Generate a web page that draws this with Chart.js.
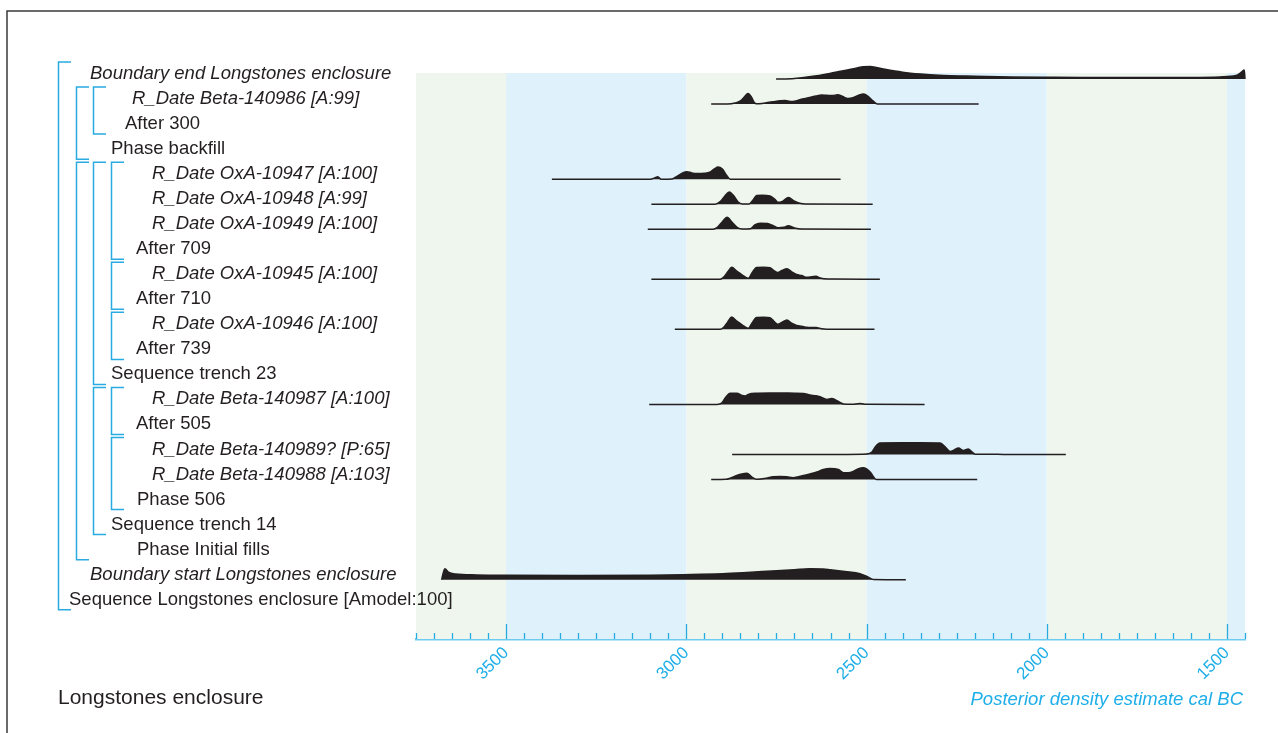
<!DOCTYPE html>
<html>
<head>
<meta charset="utf-8">
<title>Longstones enclosure</title>
<script src="https://cdn.jsdelivr.net/npm/chart.js@4.4.1/dist/chart.umd.min.js"></script>
<style>
  html, body { margin: 0; padding: 0; background: #fff; }
  canvas { display: block; }
</style>
</head>
<body>
<canvas id="myChart" width="1278" height="733" style="width:1278px;height:733px"></canvas>
<script>
// Row labels, top to bottom
const rowLabels = [
  "Boundary end Longstones enclosure",
  "R_Date Beta-140986 [A:99]",
  "After 300",
  "Phase backfill",
  "R_Date OxA-10947 [A:100]",
  "R_Date OxA-10948 [A:99]",
  "R_Date OxA-10949 [A:100]",
  "After 709",
  "R_Date OxA-10945 [A:100]",
  "After 710",
  "R_Date OxA-10946 [A:100]",
  "After 739",
  "Sequence trench 23",
  "R_Date Beta-140987 [A:100]",
  "After 505",
  "R_Date Beta-140989? [P:65]",
  "R_Date Beta-140988 [A:103]",
  "Phase 506",
  "Sequence trench 14",
  "Phase Initial fills",
  "Boundary start Longstones enclosure",
  "Sequence Longstones enclosure [Amodel:100]"
];

// axis labels (cal BC) and background band edges
const tickYears = [3500, 3000, 2500, 2000, 1500];
const bandEdges = [3750, 3500, 3000, 2500, 2000, 1500, 1450];

// model structure: [first row, last row, depth]
const groups = [
  [0, 21, 0], [1, 3, 1], [1, 2, 2], [4, 19, 1], [4, 12, 2],
  [4, 7, 3], [8, 9, 3], [10, 11, 3], [13, 18, 2], [13, 14, 3], [15, 17, 3]
];

// posterior densities (relative probability), years cal BC
const endYears = [2751, 2700, 2654, 2602, 2572, 2540, 2510, 2490, 2470, 2449, 2400, 2350, 2300, 2200, 2100, 2000, 1900, 1750, 1600, 1520, 1475, 1460, 1452, 1450];
const endProb  = [0, 0.05, 0.2, 0.45, 0.62, 0.8, 0.98, 1.0, 0.9, 0.78, 0.55, 0.4, 0.3, 0.22, 0.17, 0.14, 0.12, 0.12, 0.13, 0.17, 0.28, 0.55, 0.72, 0];

const beta140986Years = [2931, 2885, 2865, 2850, 2838, 2829, 2820, 2812, 2805, 2790, 2775, 2760, 2740, 2725, 2712, 2700, 2685, 2670, 2655, 2640, 2625, 2610, 2595, 2580, 2566, 2552, 2538, 2522, 2508, 2495, 2482, 2470, 2189];
const beta140986Prob  = [0, 0, 0.08, 0.25, 0.6, 0.85, 0.6, 0.15, 0.02, 0.05, 0.12, 0.18, 0.26, 0.28, 0.2, 0.22, 0.35, 0.45, 0.55, 0.65, 0.72, 0.7, 0.68, 0.75, 0.6, 0.45, 0.5, 0.7, 0.8, 0.6, 0.25, 0, 0];

const oxa10947Years = [3373, 3100, 3088, 3079, 3070, 3040, 3025, 3010, 2999, 2985, 2970, 2950, 2935, 2922, 2912, 2900, 2888, 2878, 2572];
const oxa10947Prob  = [0, 0, 0.1, 0.2, 0, 0.02, 0.25, 0.5, 0.6, 0.5, 0.45, 0.47, 0.55, 0.82, 0.97, 0.8, 0.3, 0, 0];

const oxa10948Years = [3097, 2920, 2906, 2893, 2881, 2868, 2857, 2845, 2826, 2816, 2805, 2790, 2768, 2755, 2746, 2732, 2717, 2700, 2685, 2670, 2483];
const oxa10948Prob  = [0, 0, 0.2, 0.65, 0.98, 0.65, 0.2, 0.02, 0.02, 0.3, 0.7, 0.72, 0.65, 0.4, 0.15, 0.25, 0.53, 0.25, 0.08, 0.02, 0];

const oxa10949Years = [3107, 2926, 2914, 2900, 2887, 2873, 2859, 2845, 2822, 2810, 2795, 2775, 2760, 2745, 2730, 2717, 2700, 2680, 2488];
const oxa10949Prob  = [0, 0, 0.15, 0.6, 0.96, 0.55, 0.15, 0.02, 0.04, 0.35, 0.48, 0.45, 0.3, 0.12, 0.15, 0.27, 0.1, 0.02, 0];

const oxa10945Years = [3097, 2906, 2897, 2885, 2874, 2860, 2851, 2840, 2828, 2818, 2805, 2785, 2768, 2757, 2746, 2735, 2721, 2708, 2694, 2680, 2666, 2652, 2640, 2630, 2618, 2590, 2463];
const oxa10945Prob  = [0, 0, 0.15, 0.6, 0.96, 0.65, 0.48, 0.25, 0.08, 0.5, 0.95, 0.97, 0.93, 0.7, 0.55, 0.7, 0.85, 0.6, 0.38, 0.3, 0.16, 0.2, 0.24, 0.12, 0.04, 0.02, 0];

const oxa10946Years = [3032, 2906, 2897, 2885, 2874, 2860, 2851, 2840, 2828, 2818, 2805, 2785, 2768, 2757, 2746, 2735, 2721, 2708, 2694, 2680, 2666, 2652, 2640, 2625, 2610, 2478];
const oxa10946Prob  = [0, 0, 0.15, 0.6, 0.98, 0.65, 0.48, 0.25, 0.08, 0.5, 0.95, 0.97, 0.93, 0.65, 0.4, 0.55, 0.74, 0.5, 0.32, 0.25, 0.16, 0.14, 0.15, 0.05, 0.01, 0];

const beta140987Years = [3103, 2915, 2902, 2890, 2879, 2860, 2845, 2837, 2828, 2819, 2805, 2770, 2740, 2700, 2675, 2657, 2640, 2629, 2610, 2597, 2585, 2575, 2564, 2540, 2518, 2500, 2339];
const beta140987Prob  = [0, 0, 0.1, 0.6, 0.9, 0.9, 0.72, 0.68, 0.8, 0.88, 0.9, 0.92, 0.92, 0.9, 0.88, 0.75, 0.7, 0.62, 0.4, 0.47, 0.35, 0.18, 0.04, 0.02, 0.07, 0.01, 0];

const beta140989Years = [2873, 2555, 2500, 2485, 2476, 2463, 2400, 2350, 2296, 2280, 2268, 2258, 2245, 2231, 2218, 2207, 2199, 2157, 2120, 1947];
const beta140989Prob  = [0, 0.01, 0.04, 0.2, 0.6, 0.92, 0.93, 0.94, 0.92, 0.55, 0.25, 0.35, 0.52, 0.32, 0.45, 0.2, 0.03, 0.03, 0.01, 0];

const beta140988Years = [2931, 2890, 2879, 2862, 2846, 2832, 2818, 2805, 2779, 2760, 2740, 2721, 2704, 2675, 2657, 2638, 2620, 2601, 2578, 2564, 2551, 2537, 2524, 2509, 2500, 2490, 2472, 2193];
const beta140988Prob  = [0, 0.02, 0.1, 0.3, 0.45, 0.5, 0.2, 0.03, 0.1, 0.22, 0.25, 0.22, 0.15, 0.32, 0.45, 0.6, 0.8, 0.88, 0.8, 0.55, 0.55, 0.65, 0.85, 0.95, 0.85, 0.6, 0, 0];

const startYears = [3679, 3670, 3660, 3640, 3582, 3500, 3300, 3100, 3009, 2900, 2843, 2749, 2700, 2657, 2620, 2601, 2560, 2518, 2495, 2481, 2391];
const startProb  = [0, 0.88, 0.6, 0.45, 0.38, 0.35, 0.33, 0.36, 0.4, 0.47, 0.55, 0.72, 0.8, 0.88, 0.86, 0.8, 0.65, 0.48, 0.2, 0.02, 0];

// which row each distribution sits on
const densities = [
  [0, endYears, endProb],
  [1, beta140986Years, beta140986Prob],
  [4, oxa10947Years, oxa10947Prob],
  [5, oxa10948Years, oxa10948Prob],
  [6, oxa10949Years, oxa10949Prob],
  [8, oxa10945Years, oxa10945Prob],
  [10, oxa10946Years, oxa10946Prob],
  [13, beta140987Years, beta140987Prob],
  [15, beta140989Years, beta140989Prob],
  [16, beta140988Years, beta140988Prob],
  [20, startYears, startProb]
];

// ---- styling ----
const FONT = "'Liberation Sans', Arial, Helvetica, sans-serif";
const INK = "#231f20";
const BLUE = "#29abe2";
const peakHeight = 0.5;   // a density of 1 reaches half a row up
const labelX = [90, 132, 125, 111, 152, 152, 152, 136, 152, 136, 152, 136, 111, 152, 136, 152, 152, 137, 111, 137, 90, 69];

Chart.defaults.font.family = FONT;

let datasets = densities.map(([row, years, prob]) => ({
  data: years.map((yr, i) => ({ x: yr, y: row - prob[i] * peakHeight })),
  borderColor: INK,
  backgroundColor: INK,
  borderWidth: 1.5,
  fill: { value: row },
  cubicInterpolationMode: "monotone",
  pointRadius: 0,
  clip: false
}));

// background bands, inward tick marks, frame, labels and brackets
const oxcalDecor = {
  id: "oxcalDecor",
  beforeDatasetsDraw(chart) {
    const { ctx, chartArea, scales: { x, y } } = chart;
    const top = y.getPixelForValue(-0.24);
    ctx.save();
    for (let i = 0; i < bandEdges.length - 1; i++) {
      const x0 = x.getPixelForValue(bandEdges[i]);
      const x1 = x.getPixelForValue(bandEdges[i + 1]);
      ctx.fillStyle = i % 2 === 0 ? "#eff6ee" : "#dff1fb";
      ctx.fillRect(x0, top, x1 - x0, chartArea.bottom - top);
    }
    ctx.restore();
  },
  afterDraw(chart) {
    const { ctx, chartArea, scales: { x, y } } = chart;
    ctx.save();

    // tick marks pointing up into the plot
    ctx.strokeStyle = BLUE;
    ctx.lineWidth = 1.3;
    x.ticks.forEach(t => {
      const px = Math.round(x.getPixelForValue(t.value)) + 0.5;
      const len = tickYears.includes(t.value) ? 15 : 6;
      ctx.beginPath();
      ctx.moveTo(px, chartArea.bottom);
      ctx.lineTo(px, chartArea.bottom - len);
      ctx.stroke();
    });

    // frame
    ctx.strokeStyle = "#3a3a3a";
    ctx.lineWidth = 1.5;
    ctx.beginPath();
    ctx.moveTo(1278, 11);
    ctx.lineTo(7, 11);
    ctx.lineTo(7, 733);
    ctx.stroke();

    // row labels
    ctx.fillStyle = INK;
    ctx.textBaseline = "alphabetic";
    ctx.textAlign = "left";
    rowLabels.forEach((lab, i) => {
      const italic = /^(R_Date|Boundary)/.test(lab);
      ctx.font = (italic ? "italic " : "") + "18.5px " + FONT;
      ctx.fillText(lab, labelX[i], y.getPixelForValue(i));
    });

    // structure brackets
    ctx.strokeStyle = BLUE;
    ctx.lineWidth = 1.5;
    groups.forEach(([first, last, depth]) => {
      const bx = Math.round(58 + depth * 17.7) + 0.5;
      const y0 = y.getPixelForValue(first) - 17;
      const y1 = y.getPixelForValue(last) + 5;
      ctx.beginPath();
      ctx.moveTo(bx + 12.5, y0);
      ctx.lineTo(bx, y0);
      ctx.lineTo(bx, y1);
      ctx.lineTo(bx + 12.5, y1);
      ctx.stroke();
    });

    // titles
    ctx.font = "21px " + FONT;
    ctx.fillStyle = INK;
    ctx.fillText("Longstones enclosure", 58, 704);
    ctx.font = "italic 18.5px " + FONT;
    ctx.fillStyle = "#1eaee8";
    ctx.textAlign = "right";
    ctx.fillText("Posterior density estimate cal BC", chartArea.right - 2, 705);
    ctx.restore();
  }
};

let ctx = document.getElementById("myChart").getContext("2d");

let myChart = new Chart(ctx, {
  type: "line",
  data: { datasets: datasets },
  options: {
    responsive: false,
    animation: false,
    layout: { padding: { left: 416, right: 33, top: 54, bottom: 0 } },
    plugins: {
      legend: { display: false },
      tooltip: { enabled: false },
      filler: { propagate: false }
    },
    scales: {
      x: {
        type: "linear",
        reverse: true,
        min: 1450,
        max: 3750,
        afterFit: scale => { scale.height = 94; },
        ticks: {
          stepSize: 50,
          autoSkip: false,
          minRotation: 45,
          maxRotation: 45,
          padding: 4,
          color: "#1eaee8",
          font: { size: 17 },
          callback: v => tickYears.includes(v) ? String(v) : ""
        },
        grid: { drawOnChartArea: false, drawTicks: false },
        border: { color: "#6ccbf0", width: 2.5 }
      },
      y: {
        type: "linear",
        reverse: true,
        min: -1,
        max: 22.37,
        display: false
      }
    }
  },
  plugins: [oxcalDecor]
});
</script>
</body>
</html>
